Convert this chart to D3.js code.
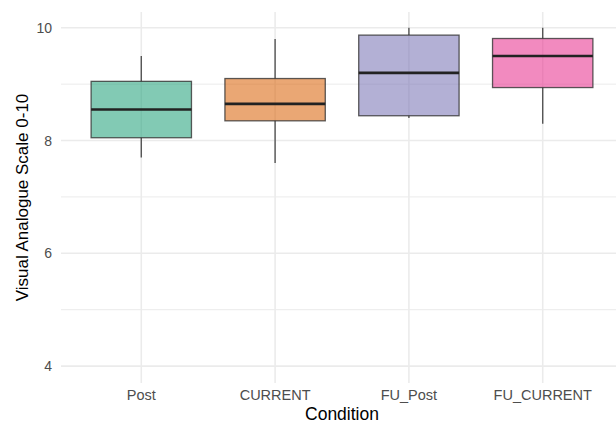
<!DOCTYPE html>
<html>
<head>
<meta charset="utf-8">
<script src="https://cdn.jsdelivr.net/npm/d3@7"></script>
<style>
  html, body { margin: 0; padding: 0; background: #fff; }
  svg { display: block; font-family: "Liberation Sans", Arial, sans-serif; }
</style>
</head>
<body>
<svg id="chart" width="616" height="425"></svg>
<script>
// Box plot summaries per condition
const conditions = ["Post", "CURRENT", "FU_Post", "FU_CURRENT"];
const whiskerLow  = [7.70, 7.60, 8.40, 8.30];
const q1          = [8.05, 8.35, 8.44, 8.94];
const median      = [8.55, 8.65, 9.20, 9.50];
const q3          = [9.05, 9.10, 9.87, 9.81];
const whiskerHigh = [9.50, 9.80, 10.0, 10.0];
const fillColors  = ["#1b9e77", "#d95f02", "#7570b3", "#e7298a"];
const yTicks = [4, 6, 8, 10];
const yMinor = [5, 7, 9];

const svg = d3.select("#chart");
const panel = { left: 61, right: 623, top: 12, bottom: 383 };

const y = d3.scaleLinear().domain([3.7, 10.28]).range([panel.bottom, panel.top]);
const x = d3.scaleBand().domain(conditions)
  .range([panel.left, panel.right]).paddingInner(0).paddingOuter(0.1);
const step = x.step();
const boxW = step * 0.75;
const cx = c => x(c) + x.bandwidth() / 2;

// grid
const grid = svg.append("g");
grid.selectAll("line.minor").data(yMinor).join("line")
  .attr("x1", panel.left).attr("x2", panel.right)
  .attr("y1", d => y(d)).attr("y2", d => y(d))
  .attr("stroke", "#ebebeb").attr("stroke-width", 1);
grid.selectAll("line.major").data(yTicks).join("line")
  .attr("x1", panel.left).attr("x2", panel.right)
  .attr("y1", d => y(d)).attr("y2", d => y(d))
  .attr("stroke", "#ebebeb").attr("stroke-width", 1.6);
grid.selectAll("line.vert").data(conditions).join("line")
  .attr("x1", cx).attr("x2", cx)
  .attr("y1", panel.top).attr("y2", panel.bottom)
  .attr("stroke", "#ebebeb").attr("stroke-width", 1.6);

// boxes
const boxes = svg.append("g").selectAll("g").data(conditions).join("g");
boxes.append("line")
  .attr("x1", cx).attr("x2", cx)
  .attr("y1", (d, i) => y(whiskerHigh[i])).attr("y2", (d, i) => y(q3[i]))
  .attr("stroke", "#3a3a3a").attr("stroke-width", 1.4).attr("stroke-opacity", 0.85);
boxes.append("line")
  .attr("x1", cx).attr("x2", cx)
  .attr("y1", (d, i) => y(q1[i])).attr("y2", (d, i) => y(whiskerLow[i]))
  .attr("stroke", "#3a3a3a").attr("stroke-width", 1.4).attr("stroke-opacity", 0.85);
boxes.append("rect")
  .attr("x", d => cx(d) - boxW / 2).attr("width", boxW)
  .attr("y", (d, i) => y(q3[i])).attr("height", (d, i) => y(q1[i]) - y(q3[i]))
  .attr("fill", (d, i) => fillColors[i]).attr("fill-opacity", 0.55)
  .attr("stroke", "#333").attr("stroke-opacity", 0.8).attr("stroke-width", 1.3);
boxes.append("line")
  .attr("x1", d => cx(d) - boxW / 2).attr("x2", d => cx(d) + boxW / 2)
  .attr("y1", (d, i) => y(median[i])).attr("y2", (d, i) => y(median[i]))
  .attr("stroke", "#222").attr("stroke-width", 2.6);

// axes (text only, minimal theme)
const yAxis = svg.append("g").attr("transform", `translate(${panel.left - 7},0)`)
  .call(d3.axisLeft(y).tickValues(yTicks).tickFormat(d3.format("d")).tickSize(0).tickPadding(2));
yAxis.select(".domain").remove();
yAxis.selectAll("text").attr("fill", "#4d4d4d").style("font-size", "14px");

const xAxis = svg.append("g").attr("transform", `translate(0,${panel.bottom + 2})`)
  .call(d3.axisBottom(x).tickSize(0).tickPadding(5));
xAxis.select(".domain").remove();
xAxis.selectAll("text").attr("fill", "#4d4d4d").style("font-size", "14.5px");

svg.append("text")
  .attr("x", (panel.left + panel.right) / 2).attr("y", 420)
  .attr("text-anchor", "middle")
  .attr("fill", "#000").style("font-size", "17.5px")
  .text("Condition");

svg.append("text")
  .attr("transform", `translate(28,${(panel.top + panel.bottom) / 2}) rotate(-90)`)
  .attr("text-anchor", "middle")
  .attr("fill", "#000").style("font-size", "17px")
  .text("Visual Analogue Scale 0-10");
</script>
</body>
</html>
